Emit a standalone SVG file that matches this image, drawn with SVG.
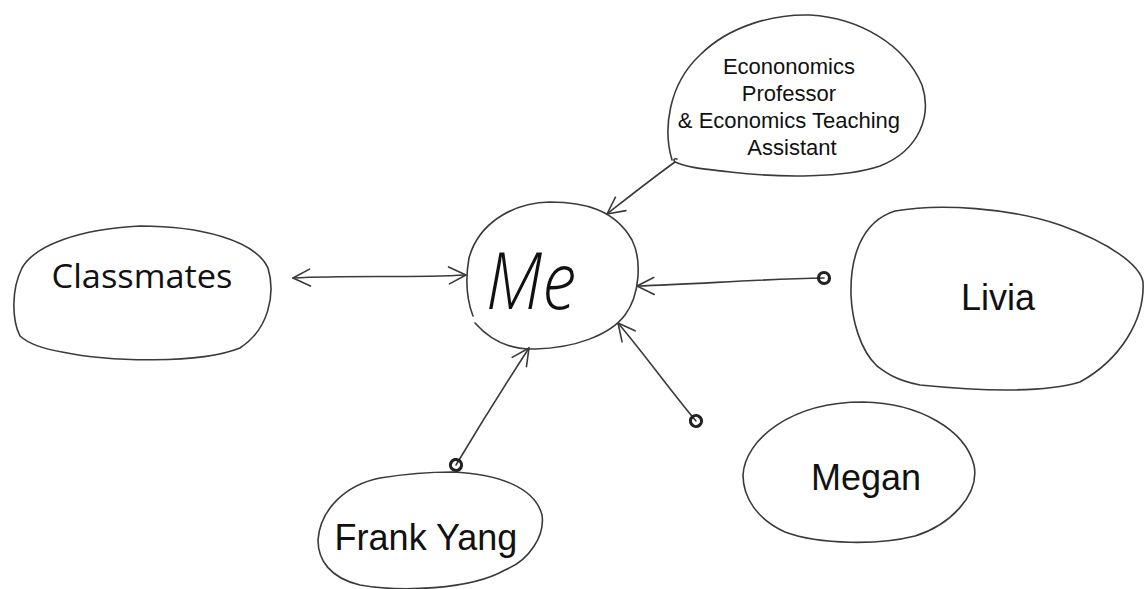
<svg xmlns="http://www.w3.org/2000/svg" width="1145" height="589" viewBox="0 0 1145 589">
  <style>
    .blob { fill: none; stroke: #3a3a3a; stroke-width: 1.6; stroke-linecap: round; stroke-linejoin: round; }
    .link { fill: none; stroke: #3a3a3a; stroke-width: 1.6; stroke-linecap: round; }
    .label { font-family: "Liberation Sans", Arial, sans-serif; fill: #111; text-anchor: middle; }
    .hand { font-family: "Open Sans", "DejaVu Sans", sans-serif; font-style: italic; font-weight: 300; fill: #111; text-anchor: middle; }
    .hand-upright { font-family: "Open Sans", "DejaVu Sans", sans-serif; font-weight: 400; fill: #111; text-anchor: middle; }
  </style>
  <defs>
    <marker id="open-arrow" markerUnits="userSpaceOnUse" markerWidth="30" markerHeight="30" viewBox="-20 -15 30 30" refX="0" refY="0" orient="auto-start-reverse">
      <path d="M -17,-9 L 0,0 L -17,8" fill="none" stroke="#3a3a3a" stroke-width="1.6" stroke-linecap="round" stroke-linejoin="round"/>
    </marker>
    <marker id="dot-tail" markerUnits="userSpaceOnUse" markerWidth="20" markerHeight="20" viewBox="-10 -10 20 20" refX="0" refY="0" orient="auto">
      <circle cx="0" cy="0" r="5.5" fill="none" stroke="#222" stroke-width="3.2"/>
    </marker>
  </defs>
  <rect width="1145" height="589" fill="#ffffff"/>

  <!-- connectors -->
  <g id="connectors">
    <path class="link" d="M 293,278 C 350,275 410,278 466,275" marker-start="url(#open-arrow)" marker-end="url(#open-arrow)"/>
    <path class="link" d="M 675,162 C 650,180 630,196 607,214" marker-end="url(#open-arrow)"/>
    <path class="link" d="M 824,278 C 760,279 700,284 637,286" marker-start="url(#dot-tail)" marker-end="url(#open-arrow)"/>
    <path class="link" d="M 696,421 C 670,390 645,355 618,323" marker-start="url(#dot-tail)" marker-end="url(#open-arrow)"/>
    <path class="link" d="M 456,465 C 480,425 505,385 529,348" marker-start="url(#dot-tail)" marker-end="url(#open-arrow)"/>
  </g>

  <!-- people and groups -->
  <g id="node-classmates">
    <path class="blob" d="M 140,226 C 200,226 255,240 268,268 C 276,295 268,330 240,348 C 200,364 110,362 62,352 C 50,350 30,345 20,336 C 12,320 11,290 22,268 C 35,245 80,229 140,226 Z"/>
    <text class="hand-upright" x="142" y="288" font-size="33" textLength="181" lengthAdjust="spacingAndGlyphs">Classmates</text>
  </g>

  <g id="node-me">
    <path class="blob" d="M 475,323 C 490,340 510,350 535,349 C 575,348 610,335 625,315 C 640,295 642,260 632,240 C 615,210 585,202 550,202 C 510,203 478,225 469,258 C 465,280 467,300 473,316"/>
    <text class="hand" x="531" y="309" font-size="80" textLength="90" lengthAdjust="spacingAndGlyphs">Me</text>
  </g>

  <g id="node-professor">
    <path class="blob" d="M 672,160 C 663,130 668,85 700,55 C 730,25 775,14 810,15 C 860,18 905,45 922,85 C 932,115 920,150 880,166 C 845,178 780,178 730,172 C 705,169 688,168 675,162 C 673,160 674,158 677,159"/>
    <text class="label" font-size="22">
      <tspan x="792" y="74">Econonomics</tspan>
      <tspan x="792" y="101">Professor</tspan>
      <tspan x="792" y="128">&amp; Economics Teaching</tspan>
      <tspan x="792" y="155">Assistant</tspan>
    </text>
  </g>

  <g id="node-livia">
    <path class="blob" d="M 877,366 C 860,350 852,320 851,295 C 850,260 860,222 895,211 C 940,203 1010,208 1060,225 C 1110,243 1140,265 1143,282 C 1145,320 1120,360 1080,382 C 1040,394 970,390 920,385 C 895,380 885,372 877,366 Z"/>
    <text class="label" x="998" y="310" font-size="36">Livia</text>
  </g>

  <g id="node-megan">
    <path class="blob" d="M 863,402 C 920,403 965,430 974,465 C 980,495 950,525 915,536 C 880,545 820,545 785,532 C 758,520 743,498 743,475 C 745,440 790,402 863,402 Z"/>
    <text class="label" x="866" y="490" font-size="36">Megan</text>
  </g>

  <g id="node-frank">
    <path class="blob" d="M 452,472 C 500,474 535,488 542,515 C 545,535 530,560 505,570 C 470,590 400,592 360,585 C 330,578 318,560 318,540 C 320,510 345,485 380,478 C 405,474 430,472 452,472 Z"/>
    <text class="label" x="426" y="550" font-size="36">Frank Yang</text>
  </g>
</svg>
